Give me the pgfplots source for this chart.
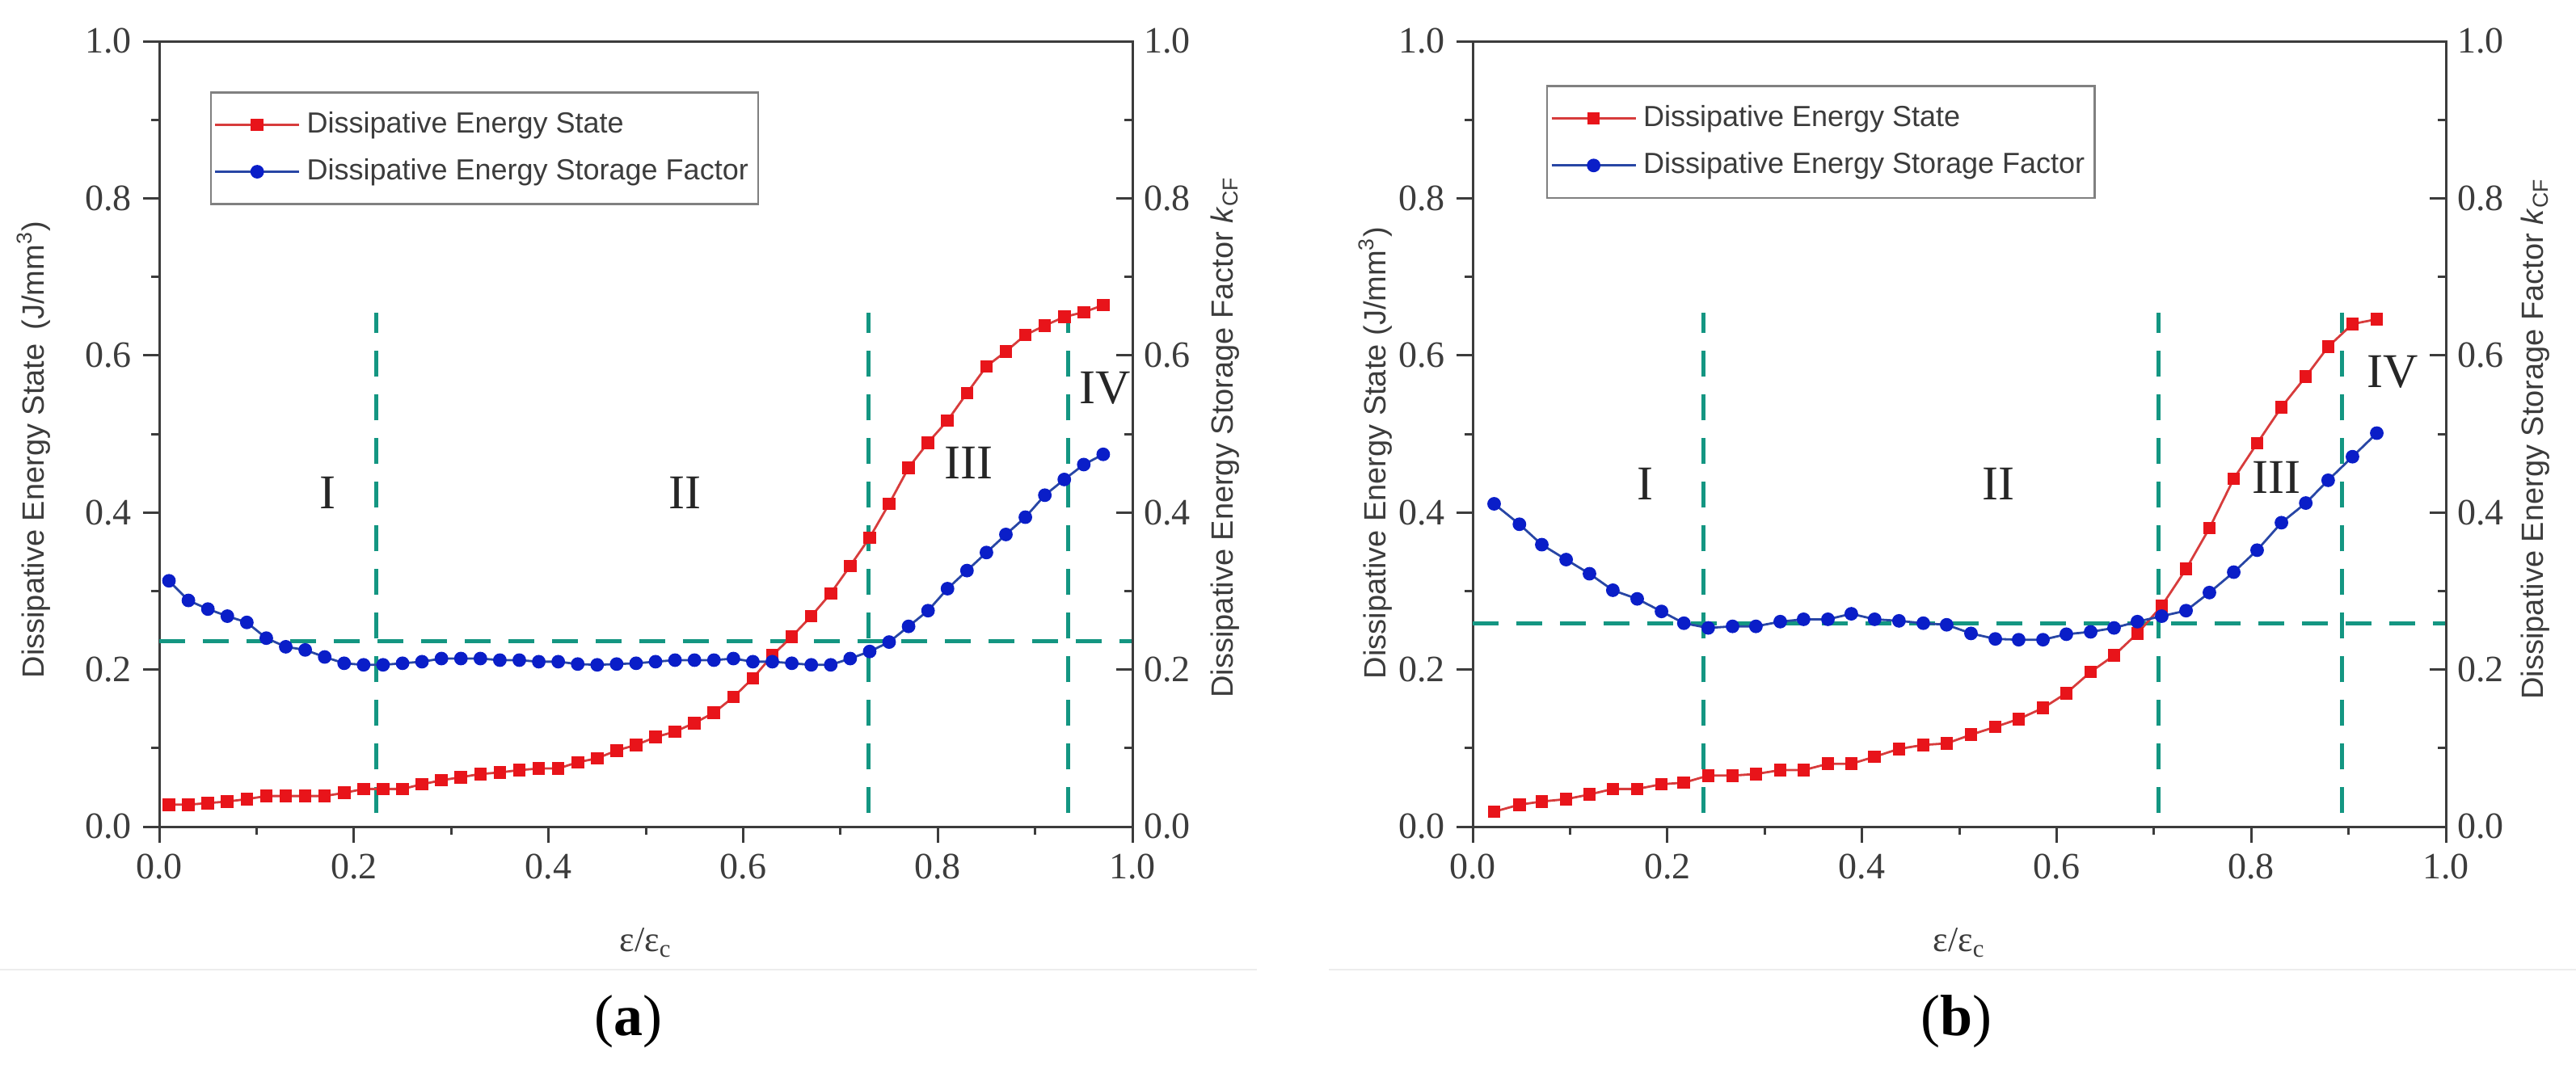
\documentclass[border=0pt]{standalone}
\usepackage{pgfplots}
\usepackage{pgfplotstable}
\pgfplotsset{compat=1.18}
\usepackage{fontspec}
\setmainfont{Liberation Serif}
\setsansfont{Liberation Sans}

\definecolor{redline}{RGB}{215,60,60}
\definecolor{redmark}{RGB}{232,20,26}
\definecolor{blueline}{RGB}{40,70,165}
\definecolor{bluemark}{RGB}{10,30,200}
\definecolor{guide}{RGB}{20,150,130}
\definecolor{axgray}{RGB}{60,60,60}

% panel (a): x, energy state, storage factor
\pgfplotstableread{
x s f
0.01 0.028 0.313
0.03 0.028 0.288
0.05 0.030 0.277
0.07 0.032 0.268
0.09 0.035 0.260
0.11 0.039 0.240
0.13 0.039 0.229
0.15 0.039 0.225
0.17 0.039 0.216
0.19 0.043 0.208
0.21 0.048 0.206
0.23 0.048 0.206
0.25 0.048 0.208
0.27 0.054 0.210
0.29 0.059 0.214
0.31 0.063 0.214
0.33 0.067 0.214
0.35 0.069 0.212
0.37 0.072 0.212
0.39 0.074 0.210
0.41 0.074 0.210
0.43 0.082 0.207
0.45 0.087 0.206
0.47 0.097 0.207
0.49 0.104 0.208
0.51 0.114 0.210
0.53 0.121 0.212
0.55 0.132 0.212
0.57 0.145 0.212
0.59 0.165 0.214
0.61 0.189 0.210
0.63 0.218 0.210
0.65 0.242 0.208
0.67 0.268 0.206
0.69 0.297 0.206
0.71 0.332 0.214
0.73 0.368 0.223
0.75 0.411 0.235
0.77 0.457 0.255
0.79 0.489 0.275
0.81 0.517 0.303
0.83 0.552 0.326
0.85 0.586 0.349
0.87 0.605 0.372
0.89 0.626 0.394
0.91 0.638 0.422
0.93 0.649 0.442
0.95 0.655 0.461
0.97 0.664 0.474
}\tabA

% panel (b)
\pgfplotstableread{
x s f
0.022 0.019 0.411
0.048 0.028 0.385
0.071 0.032 0.359
0.096 0.035 0.340
0.120 0.041 0.322
0.144 0.048 0.301
0.169 0.048 0.290
0.194 0.054 0.274
0.217 0.056 0.259
0.242 0.065 0.253
0.267 0.065 0.255
0.291 0.067 0.255
0.316 0.072 0.261
0.340 0.072 0.264
0.365 0.080 0.264
0.389 0.080 0.271
0.413 0.089 0.264
0.438 0.099 0.262
0.463 0.104 0.259
0.487 0.106 0.257
0.512 0.117 0.246
0.537 0.127 0.239
0.561 0.137 0.238
0.586 0.151 0.238
0.610 0.170 0.245
0.635 0.197 0.248
0.659 0.218 0.253
0.683 0.246 0.261
0.708 0.281 0.268
0.733 0.328 0.275
0.757 0.380 0.298
0.782 0.443 0.324
0.806 0.488 0.352
0.831 0.534 0.387
0.856 0.573 0.412
0.879 0.611 0.441
0.904 0.640 0.471
0.929 0.646 0.501
}\tabB

\tikzset{romanlab/.style={font=\fontsize{15}{15}\selectfont, text=black!85}}

\pgfplotsset{
  panel/.style={
    scale only axis, width=301pt, height=243pt,
    xmin=0, xmax=1, ymin=0, ymax=1,
    axis line style={axgray, line width=0.75pt},
    every tick/.style={axgray, line width=0.75pt},
    major tick length=5pt, minor tick length=2.5pt,
    xtick={0,0.2,0.4,0.6,0.8,1}, ytick={0,0.2,0.4,0.6,0.8,1},
    minor tick num=1,
    tick label style={font=\fontsize{11.5}{12}\selectfont, text=axgray},
    /pgf/number format/.cd, fixed, fixed zerofill, precision=1, assume math mode=true,
    /pgfplots/.cd,
  },
  statestyle/.style={redline, line width=0.7pt, mark=square*, mark size=1.6pt,
    mark options={fill=redmark, draw=redmark, solid}},
  factorstyle/.style={blueline, line width=0.7pt, mark=*, mark size=1.75pt,
    mark options={fill=bluemark, draw=bluemark, solid}},
  guideline/.style={guide, line width=1.25pt, dash pattern=on 8pt off 5.5pt, forget plot},
  leftpanel/.style={panel, tick align=outside, tick pos=left,
    xlabel={ε/ε\textsubscript{c}},
    xlabel style={font=\fontsize{11}{12}\selectfont, text=axgray, at={(axis description cs:0.5,-0.148)}, anchor=center},
    ylabel style={font=\sffamily\fontsize{9.5}{11}\selectfont, text=axgray, anchor=center},
  },
  rightpanel/.style={panel, axis x line=none, axis y line*=right, tick align=inside,
    ylabel={Dissipative Energy Storage Factor \textit{k}\textsubscript{CF}},
    ylabel style={font=\sffamily\fontsize{9.5}{11}\selectfont, text=axgray, anchor=center},
    legend cell align=left,
    legend image code/.code={\draw[mark repeat=2, mark phase=2] plot coordinates {(0pt,0pt) (13pt,0pt) (26pt,0pt)};},
    legend style={anchor=north west, draw=gray, line width=0.6pt, fill=white,
      font=\sffamily\fontsize{9}{11}\selectfont, text=axgray, row sep=2.5pt,
      inner xsep=1pt, inner ysep=4pt},
  },
}

\begin{document}
\begin{tikzpicture}
\useasboundingbox (0,0) rectangle (796.75pt,-329.25pt);

% ---------- panel (a) ----------
\begin{axis}[leftpanel, at={(49.25pt,-255.75pt)}, anchor=south west,
  ylabel={Dissipative Energy State\, (J/mm\textsuperscript{3})},
  ylabel style={at={(axis description cs:-0.129,0.48)}}]
  \addplot[guideline] coordinates {(0.223,0.017) (0.223,0.654)};
  \addplot[guideline] coordinates {(0.729,0.017) (0.729,0.654)};
  \addplot[guideline] coordinates {(0.934,0.017) (0.934,0.654)};
  \addplot[guideline] coordinates {(0,0.236) (1,0.236)};
  \addplot[statestyle] table[x=x, y=s] {\tabA};
  \node[romanlab] at (axis cs:0.173,0.425) {I};
  \node[romanlab] at (axis cs:0.540,0.425) {II};
  \node[romanlab] at (axis cs:0.832,0.463) {III};
  \node[romanlab] at (axis cs:0.972,0.558) {IV};
\end{axis}
\begin{axis}[rightpanel, at={(49.25pt,-255.75pt)}, anchor=south west,
  ylabel style={at={(axis description cs:1.095,0.496)}},
  legend style={at={(axis description cs:0.052,0.936)}}]
  \addlegendimage{statestyle}
  \addlegendentry{Dissipative Energy State}
  \addplot[factorstyle] table[x=x, y=f] {\tabA};
  \addlegendentry{Dissipative Energy Storage Factor\hspace{9pt}}
\end{axis}

% ---------- panel (b) ----------
\begin{axis}[leftpanel, at={(455.5pt,-255.75pt)}, anchor=south west,
  ylabel={Dissipative Energy State (J/mm\textsuperscript{3})},
  ylabel style={at={(axis description cs:-0.100,0.476)}}]
  \addplot[guideline] coordinates {(0.237,0.017) (0.237,0.654)};
  \addplot[guideline] coordinates {(0.705,0.017) (0.705,0.654)};
  \addplot[guideline] coordinates {(0.893,0.017) (0.893,0.654)};
  \addplot[guideline] coordinates {(0,0.259) (1,0.259)};
  \addplot[statestyle] table[x=x, y=s] {\tabB};
  \node[romanlab] at (axis cs:0.177,0.436) {I};
  \node[romanlab] at (axis cs:0.540,0.436) {II};
  \node[romanlab] at (axis cs:0.826,0.445) {III};
  \node[romanlab] at (axis cs:0.945,0.579) {IV};
\end{axis}
\begin{axis}[rightpanel, at={(455.5pt,-255.75pt)}, anchor=south west,
  ylabel style={at={(axis description cs:1.092,0.494)}},
  legend style={at={(axis description cs:0.0756,0.944)}}]
  \addlegendimage{statestyle}
  \addlegendentry{Dissipative Energy State}
  \addplot[factorstyle] table[x=x, y=f] {\tabB};
  \addlegendentry{Dissipative Energy Storage Factor\hspace{9pt}}
\end{axis}

% separators and panel tags
\draw[black!7, line width=0.6pt] (0pt,-300pt) -- (388.75pt,-300pt);
\draw[black!7, line width=0.6pt] (411pt,-300pt) -- (796.75pt,-300pt);
\node[font=\fontsize{18}{18}\selectfont] at (194.25pt,-316pt) {(\textbf{a})};
\node[font=\fontsize{18}{18}\selectfont] at (605pt,-316pt) {(\textbf{b})};
\end{tikzpicture}
\end{document}
